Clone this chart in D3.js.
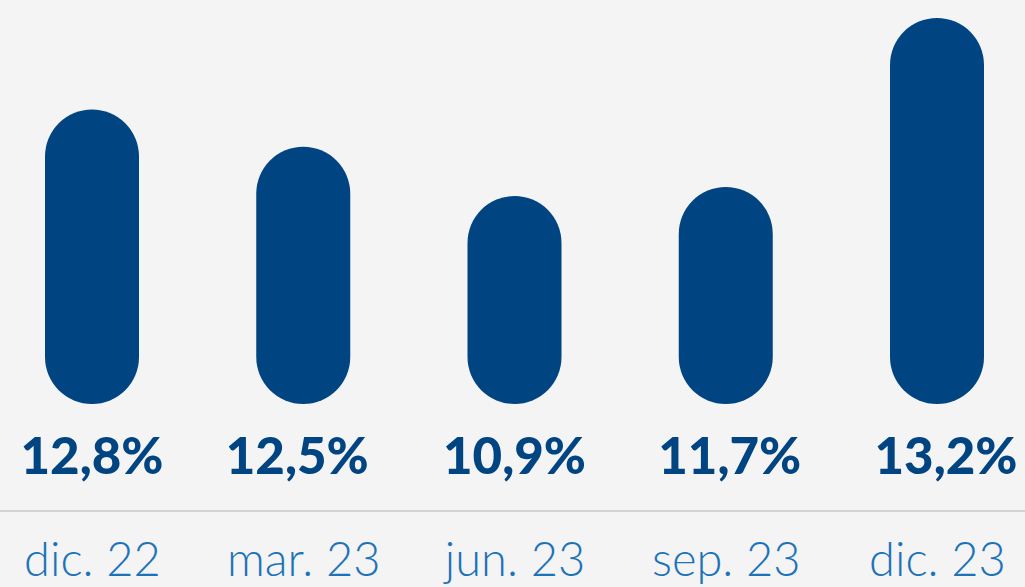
<!DOCTYPE html>
<html>
<head>
<meta charset="utf-8">
<script src="https://cdn.jsdelivr.net/npm/d3@7"></script>
<style>
  html, body { margin: 0; padding: 0; background: #f4f4f4; }
  svg { display: block; }
</style>
</head>
<body>
<svg id="chart" width="1025" height="587"></svg>
<script>
// Quarterly ratio, Dec 2022 – Dec 2023
const periods = ["dic. 22", "mar. 23", "jun. 23", "sep. 23", "dic. 23"];
const ratios  = [12.8, 12.5, 10.9, 11.7, 13.2];
const valueLabels = ["12,8%", "12,5%", "10,9%", "11,7%", "13,2%"];

const W = 1025, H = 587;
const barWidth = 94;
const barBottom = 404;
const axisY = 511;

const svg = d3.select("#chart");

svg.append("rect").attr("width", W).attr("height", H).attr("fill", "#f4f4f4");

const x = d3.scalePoint().domain(periods).range([92, 937]);

// Steep power scale: emphasises small differences between quarters
const y = d3.scalePow().exponent(23)
  .domain([d3.min(ratios), d3.max(ratios)])
  .range([196, 18]);

const data = periods.map((p, i) => ({ period: p, value: ratios[i], label: valueLabels[i] }));

// Pill-shaped bars
svg.append("g").selectAll("rect")
  .data(data)
  .join("rect")
  .attr("x", d => x(d.period) - barWidth / 2)
  .attr("y", d => y(d.value))
  .attr("width", barWidth)
  .attr("height", d => barBottom - y(d.value))
  .attr("rx", barWidth / 2)
  .attr("ry", barWidth / 2)
  .attr("fill", "#004481");

// Value labels
svg.append("g").selectAll("text")
  .data(data)
  .join("text")
  .attr("x", (d, i) => x(d.period) + [0, -6, 0, 4, 9][i])
  .attr("y", 474)
  .attr("text-anchor", "middle")
  .attr("font-family", "Lato, 'Open Sans', sans-serif")
  .attr("font-weight", 900)
  .attr("font-size", 51)
  .attr("fill", "#004481")
  .text(d => d.label);

// Baseline rule
svg.append("line")
  .attr("x1", 0).attr("x2", W)
  .attr("y1", axisY).attr("y2", axisY)
  .attr("stroke", "#c8c8c8")
  .attr("stroke-width", 1.5);

// Period axis labels
const xAxis = d3.axisBottom(x).tickSize(0).tickPadding(0);
const axisG = svg.append("g").attr("transform", `translate(0,${axisY})`).call(xAxis);
axisG.select(".domain").remove();
axisG.selectAll("text")
  .attr("y", 65)
  .attr("dy", 0)
  .attr("font-family", "Lato, 'Open Sans', sans-serif")
  .attr("font-weight", 300)
  .attr("font-size", 47)
  .attr("fill", "#1d73b8");
</script>
</body>
</html>
